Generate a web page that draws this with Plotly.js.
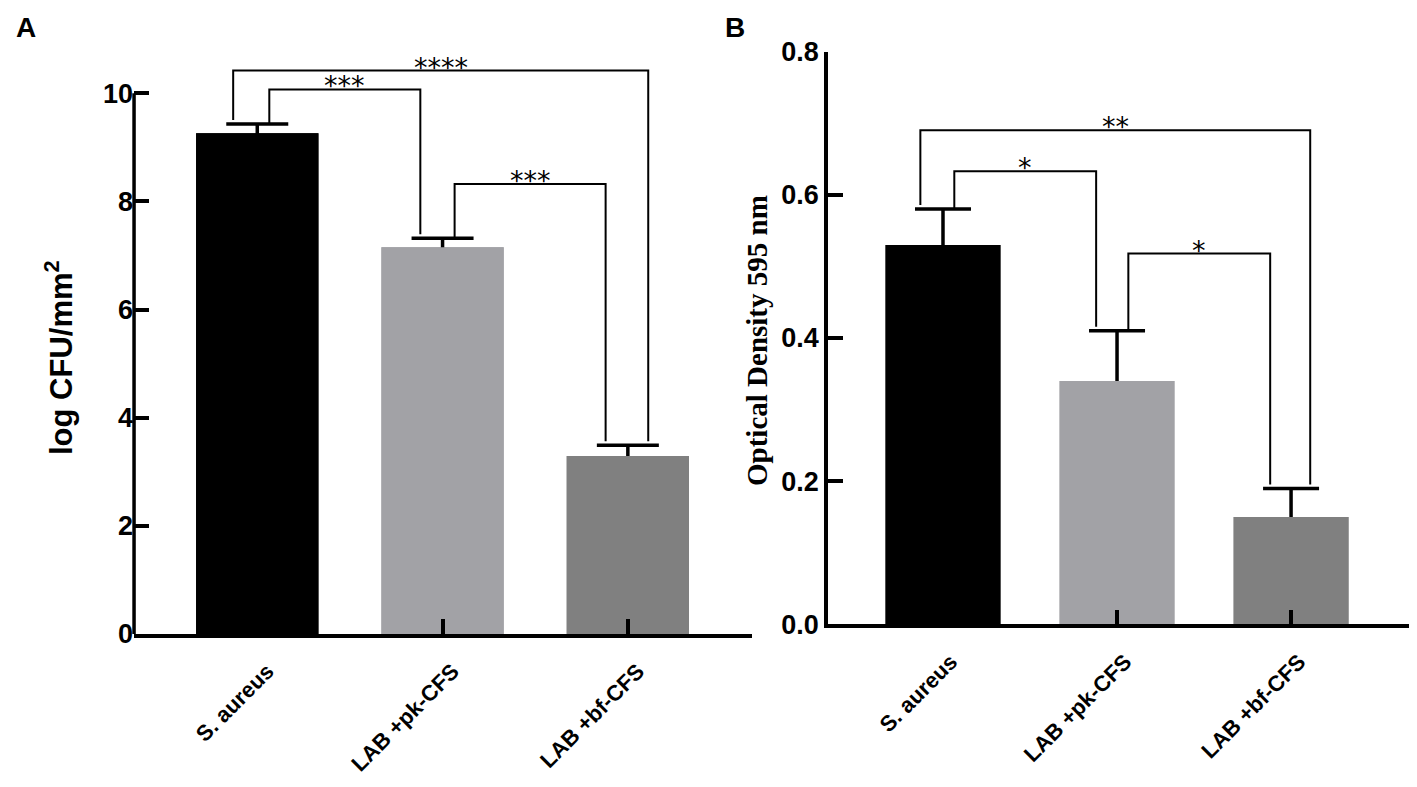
<!DOCTYPE html>
<html>
<head>
<meta charset="utf-8">
<script src="https://cdn.plot.ly/plotly-3.0.1.min.js"></script>
<style>
  html, body { margin: 0; padding: 0; background: #fff; }
  #chart { width: 1417px; height: 787px; }
</style>
</head>
<body>
<div id="chart"></div>
<script>
/* ── data ── */
const CATEGORIES = ['S. aureus', 'LAB +pk-CFS', 'LAB +bf-CFS'];
const BAR_COLORS = ['#000000', '#a2a2a6', '#808080'];

// panel A – log CFU/mm²
const CFU_MEAN    = [9.26, 7.15, 3.29];
const CFU_SD      = [0.17, 0.17, 0.20];
const CFU_TICKS   = [0, 2, 4, 6, 8, 10];
const CFU_PAIRS   = [[0, 2], [0, 1], [1, 2]];
const CFU_STARS   = ['****', '***', '***'];
const CFU_BRACKET = [10.42, 10.07, 8.32];

// panel B – optical density 595 nm
const OD_MEAN     = [0.53, 0.34, 0.15];
const OD_SD       = [0.05, 0.07, 0.04];
const OD_TICKS    = [0, 0.2, 0.4, 0.6, 0.8];
const OD_TICKTEXT = ['0.0', '0.2', '0.4', '0.6', '0.8'];
const OD_PAIRS    = [[0, 2], [0, 1], [1, 2]];
const OD_STARS    = ['**', '*', '*'];
const OD_BRACKET  = [0.69, 0.633, 0.518];

/* ── style ── */
const W = 1417, H = 787;
const SANS  = 'Liberation Sans, Arial, sans-serif';
const SERIF = 'Liberation Serif, Times New Roman, serif';
const LW = 3.5;

const PANELS = {
  A: {
    xa: 'x', ya: 'y',
    xdom: [0.0946, 0.5307], ydom: [0.1944, 0.9365],
    xrange: [-0.665, 2.67], yrange: [0, 10.8], capHalf: 31,
    labelShift: 10, labelStandoff: 12,
  },
  B: {
    xa: 'x2', ya: 'y2',
    xdom: [0.5843, 0.9944], ydom: [0.2065, 0.9345],
    xrange: [-0.661, 2.678], yrange: [0, 0.8], capHalf: 28,
    labelShift: 8, labelStandoff: 12,
  },
};

function pxPerUnit(p) {
  return (p.ydom[1] - p.ydom[0]) * H / (p.yrange[1] - p.yrange[0]);
}

function barTraces(p, mean, sd) {
  const x = CATEGORIES.map((_, i) => i);
  const base = {
    type: 'bar', x: x, y: mean, xaxis: p.xa, yaxis: p.ya, width: 0.66,
    marker: { color: BAR_COLORS, line: { width: 0 } },
  };
  return [
    // error bars drawn with this copy; the lower half is hidden by the copy on top
    { ...base, error_y: { type: 'data', array: sd, color: '#000', thickness: LW, width: p.capHalf },
      hoverinfo: 'skip' },
    { ...base, customdata: CATEGORIES,
      hovertemplate: '%{customdata}: %{y}<extra></extra>' },
  ];
}

function brackets(p, mean, sd, pairs, stars, tops, shapes, annos) {
  const gap = 4 / pxPerUnit(p);
  pairs.forEach(([a, b], k) => {
    const outer = (b - a) > 1;
    const xl = a + (outer ? -0.13 : 0.065);
    const xr = b + (outer ? 0.11 : -0.12);
    const yl = mean[a] + sd[a] + (outer ? gap : 0);
    const yr = mean[b] + sd[b] + gap;
    const top = tops[k];
    shapes.push({
      type: 'path', xref: p.xa, yref: p.ya,
      path: `M ${xl},${yl} L ${xl},${top} L ${xr},${top} L ${xr},${yr}`,
      line: { color: '#000', width: 2 },
    });
    annos.push({
      xref: p.xa, yref: p.ya, x: (xl + xr) / 2, y: top,
      text: stars[k], showarrow: false,
      xanchor: 'center', yanchor: 'bottom', yshift: -14,
      font: { family: 'DejaVu Sans', size: 27, color: '#000' },
    });
  });
}

function xaxisFor(p) {
  return {
    type: 'linear', domain: p.xdom, range: p.xrange, anchor: p.ya,
    showgrid: false, zeroline: false, fixedrange: true,
    showline: true, linecolor: '#000', linewidth: LW,
    ticks: 'inside', ticklen: 15, tickwidth: LW, tickcolor: '#000',
    tickvals: CATEGORIES.map((_, i) => i), ticktext: CATEGORIES,
    tickangle: -45, tickfont: { family: SANS, size: 22, color: '#000', weight: 'bold' },
    ticklabelshift: p.labelShift, ticklabelstandoff: p.labelStandoff,
  };
}

const shapes = [];
const annotations = [];

const A = PANELS.A, B = PANELS.B;

// y axis line of A stops at 10 while the range leaves room for the brackets
shapes.push({
  type: 'line', xref: 'x domain', yref: 'y', x0: 0, x1: 0, y0: 0, y1: CFU_TICKS[CFU_TICKS.length - 1],
  line: { color: '#000', width: LW },
});

brackets(A, CFU_MEAN, CFU_SD, CFU_PAIRS, CFU_STARS, CFU_BRACKET, shapes, annotations);
brackets(B, OD_MEAN, OD_SD, OD_PAIRS, OD_STARS, OD_BRACKET, shapes, annotations);

annotations.push(
  { xref: 'paper', yref: 'paper', x: 59 / W, y: 1 - 358 / H, text: 'log CFU/mm<sup>2</sup>',
    textangle: -90, showarrow: false, xanchor: 'center', yanchor: 'middle',
    font: { family: SANS, size: 31, color: '#000', weight: 'bold' } },
  { xref: 'paper', yref: 'paper', x: 757 / W, y: 1 - 341 / H, text: 'Optical Density 595 nm',
    textangle: -90, showarrow: false, xanchor: 'center', yanchor: 'middle',
    font: { family: SERIF, size: 29, color: '#000', weight: 'bold' } },
  { xref: 'paper', yref: 'paper', x: 26 / W, y: 1 - 27 / H, text: 'A', showarrow: false,
    xanchor: 'center', yanchor: 'middle', font: { family: SANS, size: 28, color: '#000', weight: 'bold' } },
  { xref: 'paper', yref: 'paper', x: 735 / W, y: 1 - 27 / H, text: 'B', showarrow: false,
    xanchor: 'center', yanchor: 'middle', font: { family: SANS, size: 28, color: '#000', weight: 'bold' } },
);

const yaxisBase = {
  showgrid: false, zeroline: false, linecolor: '#000', linewidth: LW,
  ticks: 'inside', ticklen: 15, tickwidth: LW, tickcolor: '#000',
  tickfont: { family: SANS, size: 27, color: '#000', weight: 'bold' }, fixedrange: true,
};

const layout = {
  width: W, height: H,
  margin: { t: 0, b: 0, l: 0, r: 0 },
  paper_bgcolor: '#fff', plot_bgcolor: '#fff',
  showlegend: false, barmode: 'overlay',
  xaxis:  xaxisFor(A),
  yaxis:  { ...yaxisBase, domain: A.ydom, range: A.yrange, anchor: 'x', showline: false,
            tickvals: CFU_TICKS, ticktext: CFU_TICKS.map(String) },
  xaxis2: xaxisFor(B),
  yaxis2: { ...yaxisBase, domain: B.ydom, range: B.yrange, anchor: 'x2', showline: true,
            tickvals: OD_TICKS, ticktext: OD_TICKTEXT },
  shapes: shapes,
  annotations: annotations,
};

const traces = [...barTraces(A, CFU_MEAN, CFU_SD), ...barTraces(B, OD_MEAN, OD_SD)];
Plotly.newPlot('chart', traces, layout, { displayModeBar: false, responsive: false });
</script>
</body>
</html>
